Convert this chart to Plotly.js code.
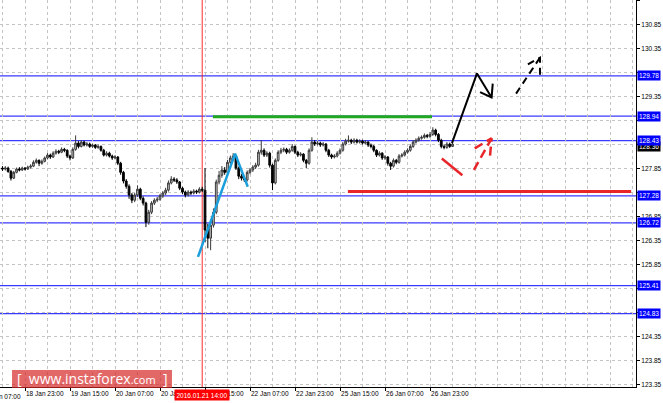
<!DOCTYPE html>
<html><head><meta charset="utf-8">
<script src="https://cdn.plot.ly/plotly-3.0.1.min.js"></script>
<style>html,body{margin:0;padding:0;background:#fff;overflow:hidden}#chart{width:663px;height:403px}</style>
</head><body><div id="chart"></div>
<script>
// ---- candle data (H1, index = trading hours from 18 Jan 23:00) ----
const firstHour = -8;
const open = [127.86,127.84,127.86,127.79,127.65,127.77,127.84,127.82,127.86,127.84,127.88,127.90,127.98,128.02,127.96,128.00,128.07,128.13,128.09,128.17,128.21,128.19,128.25,128.23,128.11,128.07,128.25,128.38,128.31,128.40,128.34,128.36,128.31,128.34,128.29,128.31,128.23,128.13,128.17,128.11,128.07,128.09,127.96,127.77,127.59,127.48,127.30,127.19,127.30,127.42,127.23,127.13,126.73,126.94,127.13,127.19,127.21,127.28,127.34,127.40,127.55,127.63,127.61,127.57,127.44,127.36,127.30,127.36,127.34,127.38,127.36,127.42,127.40,126.57,126.40,126.67,126.94,127.57,127.71,127.82,127.77,127.98,128.07,128.11,127.86,127.69,127.65,127.61,127.77,127.82,127.88,127.92,128.19,128.23,128.13,128.17,127.92,127.55,128.02,128.19,128.23,128.25,128.19,128.23,128.31,128.19,128.13,128.15,128.02,127.96,128.23,128.40,128.36,128.38,128.34,128.36,128.23,128.13,128.09,128.11,128.17,128.23,128.36,128.42,128.44,128.40,128.44,128.40,128.42,128.38,128.40,128.34,128.31,128.23,128.13,128.17,128.07,128.09,127.96,127.90,128.02,127.98,128.11,128.13,128.19,128.23,128.31,128.40,128.44,128.48,128.50,128.54,128.52,128.56,128.65,128.56,128.44,128.31,128.29,128.36,128.31];
const high = [127.90,127.90,127.89,127.82,127.80,127.87,127.88,127.89,127.88,127.91,127.94,128.02,128.06,128.04,128.04,128.10,128.17,128.16,128.21,128.25,128.24,128.29,128.28,128.25,128.14,128.29,128.54,128.42,128.44,128.43,128.40,128.39,128.37,128.36,128.35,128.33,128.26,128.21,128.20,128.14,128.13,128.11,127.99,127.80,127.63,127.52,127.34,127.34,127.50,127.45,127.27,127.16,126.99,127.17,127.23,127.26,127.32,127.38,127.45,127.60,127.69,127.67,127.65,127.59,127.47,127.39,127.40,127.39,127.42,127.41,127.46,127.47,127.86,126.70,126.75,127.02,127.62,127.80,127.90,127.88,128.03,128.12,128.17,128.13,127.89,127.74,127.69,127.81,127.86,127.92,127.97,128.24,128.44,128.27,128.21,128.20,127.95,128.06,128.23,128.28,128.29,128.28,128.27,128.36,128.33,128.22,128.19,128.17,128.05,128.27,128.50,128.44,128.42,128.41,128.40,128.38,128.26,128.16,128.15,128.21,128.27,128.40,128.47,128.54,128.47,128.48,128.47,128.46,128.45,128.44,128.42,128.37,128.34,128.25,128.21,128.19,128.13,128.11,127.99,128.06,128.05,128.15,128.17,128.23,128.27,128.35,128.44,128.48,128.52,128.54,128.58,128.57,128.61,128.71,128.68,128.59,128.47,128.35,128.40,128.39,128.40];
const low = [127.80,127.81,127.76,127.60,127.63,127.75,127.79,127.80,127.81,127.82,127.85,127.88,127.95,127.90,127.93,127.98,128.04,128.05,128.07,128.14,128.15,128.17,128.19,128.07,128.02,128.05,128.22,128.27,128.29,128.31,128.31,128.28,128.28,128.26,128.26,128.20,128.10,128.10,128.08,128.03,128.04,127.92,127.72,127.54,127.43,127.22,127.13,127.15,127.26,127.19,127.08,126.63,126.68,126.90,127.09,127.15,127.18,127.24,127.30,127.37,127.52,127.57,127.53,127.40,127.32,127.25,127.27,127.30,127.31,127.32,127.33,127.36,126.32,126.19,126.15,126.62,126.90,127.52,127.66,127.72,127.74,127.94,128.03,127.82,127.63,127.60,127.57,127.58,127.73,127.78,127.84,127.89,128.14,128.09,128.09,127.87,127.40,127.52,127.99,128.15,128.19,128.15,128.16,128.20,128.15,128.09,128.10,127.98,127.86,127.93,128.20,128.32,128.33,128.30,128.31,128.19,128.09,128.05,128.06,128.08,128.14,128.20,128.33,128.39,128.36,128.37,128.37,128.37,128.35,128.35,128.30,128.27,128.19,128.09,128.10,128.03,128.03,127.91,127.82,127.87,127.94,127.95,128.08,128.10,128.16,128.20,128.28,128.37,128.41,128.45,128.47,128.48,128.49,128.53,128.52,128.40,128.27,128.25,128.26,128.28,128.30];
const close = [127.84,127.86,127.79,127.65,127.77,127.84,127.82,127.86,127.84,127.88,127.90,127.98,128.02,127.96,128.00,128.07,128.13,128.09,128.17,128.21,128.19,128.25,128.23,128.11,128.07,128.25,128.38,128.31,128.40,128.34,128.36,128.31,128.34,128.29,128.31,128.23,128.13,128.17,128.11,128.07,128.09,127.96,127.77,127.59,127.48,127.30,127.19,127.30,127.42,127.23,127.13,126.73,126.94,127.13,127.19,127.21,127.28,127.34,127.40,127.55,127.63,127.61,127.57,127.44,127.36,127.30,127.36,127.34,127.38,127.36,127.42,127.40,126.57,126.40,126.67,126.94,127.57,127.71,127.82,127.77,127.98,128.07,128.11,127.86,127.69,127.65,127.61,127.77,127.82,127.88,127.92,128.19,128.23,128.13,128.17,127.92,127.55,128.02,128.19,128.23,128.25,128.19,128.23,128.31,128.19,128.13,128.15,128.02,127.96,128.23,128.40,128.36,128.38,128.34,128.36,128.23,128.13,128.09,128.11,128.17,128.23,128.36,128.42,128.44,128.40,128.44,128.40,128.42,128.38,128.40,128.34,128.31,128.23,128.13,128.17,128.07,128.09,127.96,127.90,128.02,127.98,128.11,128.13,128.19,128.23,128.31,128.40,128.44,128.48,128.50,128.54,128.52,128.56,128.65,128.56,128.44,128.31,128.29,128.36,128.31,128.36];

// ---- axes ----
const xRange = [-8.89, 217.24];
const yRange = [123.30, 131.36];
const tickHours = [0, 16, 32, 48, 64, 80, 96, 112, 128, 144];
const tickLabels = ["18 Jan 23:00","19 Jan 15:00","20 Jan 07:00","20 Jan 23:00","21 Jan 15:00","22 Jan 07:00","22 Jan 23:00","25 Jan 15:00","26 Jan 07:00","26 Jan 23:00"];
const offLabelHour = -16, offLabelText = "18 Jan 07:00";
const gridHours = [-8,0,8,16,24,32,40,48,56,64,72,80,88,96,104,112,120,128,136,144,152,160,168,176,184,192,200,208,216];
const priceTicks = [123.35,123.85,124.35,124.85,125.35,125.85,126.35,126.85,127.35,127.85,128.35,128.85,129.35,129.85,130.35,130.85,131.35];
// labels fully covered by the level tags in the reference are left blank
const priceTickText = ["123.35","123.85","124.35","","","125.85","126.35","126.85","","127.85","","","129.35","","130.35","130.85","131.35"];

// ---- levels & markers ----
const levels = [129.78, 128.94, 128.43, 127.28, 126.72, 125.41, 124.83];
const levelText = ["129.78","128.94","128.43","127.28","126.72","125.41","124.83"];
const currentPrice = 128.36, currentText = "128.36";
const markerHour = 63, markerText = "2016.01.21 14:00";

// ---- drawn analysis lines (hour, price) ----
const cyanX = [61.5, 74.7, 79.2], cyanY = [126.01, 128.16, 127.47];
const greenX = [66.8, 144.7], greenY = [128.93, 128.93];
const redLevelX = [114.8, 215.5], redLevelY = [127.37, 127.37];
const redSolidX = [148.2, 155.5], redSolidY = [128.06, 127.71];
const redDashX = [159.6, 165.9, null, 159.9, 165.9, 165.3], redDashY = [127.82, 128.48, null, 128.27, 128.48, 128.09];
const blackX = [151.8, 160.7, 165.9, null, 161.8, 165.9, 166.3], blackY = [128.38, 129.83, 129.33, null, 129.44, 129.33, 129.62];
const blackDashX = [174.6, 183.1, null, 178.8, 183.1, 183.1], blackDashY = [129.41, 130.16, null, 130.02, 130.16, 129.79];

const hours = close.map((_, k) => firstHour + k);
const FONT = "Liberation Sans, Arial, sans-serif";

function lineTrace(x, y, color, width, dash) {
  return {type: 'scatter', mode: 'lines', x: x, y: y, line: {color: color, width: width, dash: dash || 'solid'},
          hoverinfo: 'skip', showlegend: false, connectgaps: false};
}

const traces = [
  {type: 'candlestick', x: hours, open: open, high: high, low: low, close: close,
   increasing: {line: {color: '#3a3a3a', width: 1}, fillcolor: '#c8c8c8'},
   decreasing: {line: {color: '#000000', width: 1}, fillcolor: '#000000'},
   whiskerwidth: 0, showlegend: false, hoverinfo: 'skip'},
  lineTrace(greenX, greenY, '#20a820', 3),
  lineTrace(redLevelX, redLevelY, '#e8262a', 3),
  lineTrace(cyanX, cyanY, '#1a9fdc', 2.5),
  lineTrace(redSolidX, redSolidY, '#e8262a', 2.5),
  lineTrace(redDashX, redDashY, '#e8262a', 2.5, '9px,5px'),
  lineTrace(blackX, blackY, '#000000', 2),
  lineTrace(blackDashX, blackDashY, '#000000', 2, '7px,5px')
];

const shapes = [];
levels.forEach(v => shapes.push({type: 'line', xref: 'paper', x0: 0, x1: 1, yref: 'y', y0: v, y1: v,
  line: {color: '#3a3aff', width: 1.2}, layer: 'below'}));
shapes.push({type: 'line', xref: 'x', x0: markerHour, x1: markerHour, yref: 'paper', y0: 0, y1: 1,
  line: {color: '#ff2a2a', width: 1}, layer: 'below'});
// watermark box
shapes.push({type: 'rect', xref: 'paper', yref: 'paper', x0: 0.0189, x1: 0.2704, y0: -0.0026, y1: 0.0439,
  fillcolor: 'rgba(214,40,40,0.7)', line: {width: 0}, layer: 'above'});

const annotations = [];
annotations.push({xref: 'paper', x: 1, xanchor: 'left', xshift: 1, yref: 'y', y: currentPrice, yanchor: 'middle', yshift: -2,
  text: currentText, showarrow: false, bgcolor: '#000000', font: {family: FONT, size: 6.5, color: '#ffffff'}, borderpad: 1});
levels.forEach((v, k) => annotations.push({xref: 'paper', x: 1, xanchor: 'left', xshift: 1, yref: 'y', y: v, yanchor: 'middle',
  text: levelText[k], showarrow: false, bgcolor: '#0000ff', font: {family: FONT, size: 6.5, color: '#ffffff'}, borderpad: 1}));
annotations.push({xref: 'paper', x: (offLabelHour - xRange[0]) / (xRange[1] - xRange[0]), xanchor: 'left', xshift: 1,
  yref: 'paper', y: 0, yanchor: 'top', yshift: -4, text: offLabelText, showarrow: false,
  font: {family: FONT, size: 6.5, color: '#000000'}});
annotations.push({xref: 'x', x: markerHour, xanchor: 'center', yref: 'paper', y: 0, yanchor: 'top', yshift: -2,
  text: markerText, showarrow: false, bgcolor: '#ff0000', font: {family: FONT, size: 6.5, color: '#ffffff'}, borderpad: 1.5});
annotations.push({xref: 'paper', x: 0.1447, xanchor: 'center', yref: 'paper', y: 0.0207, yanchor: 'middle',
  text: "[  www.instaforex<span style='font-size:11px'>.com</span>  ]", showarrow: false,
  font: {family: "Open Sans, Liberation Sans, sans-serif", size: 14, color: '#ffffff'}});

const layout = {
  width: 663, height: 403,
  margin: {l: 0, r: 27, t: 0, b: 16, pad: 0},
  paper_bgcolor: '#ffffff', plot_bgcolor: '#ffffff',
  showlegend: false, dragmode: false, boxgap: 0.12,
  xaxis: {type: 'linear', range: xRange, rangeslider: {visible: false}, tickmode: 'array', tickvals: tickHours, ticktext: tickLabels,
    ticklabelposition: 'outside right', tickangle: 0, ticks: 'outside', ticklen: 3, tickcolor: '#000', tickfont: {family: FONT, size: 6.5, color: '#000'},
    showgrid: true, gridcolor: '#c4c4c4', griddash: '3px,3px', gridwidth: 1,
    minor: {tickmode: 'array', tickvals: gridHours, showgrid: true, gridcolor: '#c4c4c4', griddash: '3px,3px', ticks: ''},
    showline: true, linecolor: '#000', linewidth: 1, zeroline: false, fixedrange: true},
  yaxis: {range: yRange, side: 'right', tickmode: 'array', tickvals: priceTicks, ticktext: priceTickText,
    ticks: 'outside', ticklen: 3, tickcolor: '#000', tickfont: {family: FONT, size: 6.5, color: '#000'},
    showgrid: true, gridcolor: '#c4c4c4', griddash: '3px,3px', gridwidth: 1,
    showline: true, linecolor: '#000', linewidth: 1, zeroline: false, fixedrange: true},
  shapes: shapes, annotations: annotations
};

Plotly.newPlot('chart', traces, layout, {displayModeBar: false, staticPlot: true});
</script></body></html>
